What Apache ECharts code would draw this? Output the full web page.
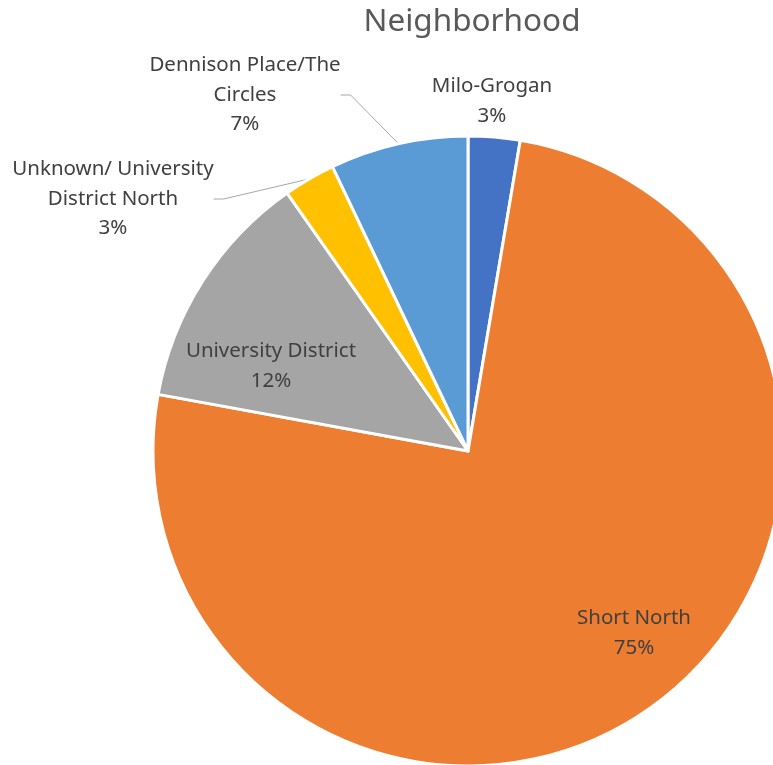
<!DOCTYPE html>
<html>
<head>
<meta charset="utf-8">
<script src="https://cdn.jsdelivr.net/npm/echarts@6/dist/echarts.min.js"></script>
<style>
  html, body { margin: 0; padding: 0; background: #ffffff; }
  #chart { width: 773px; height: 765px; }
</style>
</head>
<body>
<div id="chart"></div>
<script>
// Neighborhood breakdown (counts), clockwise from 12 o'clock
const categories = [
  'Milo-Grogan',
  'Short North',
  'University District',
  'Unknown/ University\nDistrict North',
  'Dennison Place/The\nCircles'
];
const counts = [3, 85, 14, 3, 8];
const colors = ['#4472C4', '#ED7D31', '#A5A5A5', '#FFC000', '#5B9BD5'];

// label placement per slice: where the label block sits, and whether it has a leader line
const labelSpots = [
  { x: 492, y: 101, outside: true,  line: false },
  { x: 634, y: 633, outside: false, line: false },
  { x: 271, y: 366, outside: false, line: false },
  { x: 113, y: 199, outside: true,  line: true },
  { x: 245, y: 95,  outside: true,  line: true }
];

const chart = echarts.init(document.getElementById('chart'), null, { renderer: 'canvas' });

const FONT = '"Noto Sans", "Open Sans", sans-serif';

chart.setOption({
  animation: false,
  title: {
    text: 'Neighborhood',
    left: 467,
    top: 1,
    textAlign: 'center',
    textStyle: { fontFamily: FONT, fontSize: 31.5, fontWeight: 'normal', color: '#595959' }
  },
  series: [{
    type: 'pie',
    center: [468, 451],
    radius: 315,
    startAngle: 90,
    clockwise: true,
    avoidLabelOverlap: false,
    percentPrecision: 0,
    itemStyle: { borderColor: '#ffffff', borderWidth: 3 },
    label: {
      formatter: '{b}\n{d}%',
      fontFamily: FONT,
      fontSize: 20.5,
      lineHeight: 29.5,
      color: '#404040',
      align: 'center'
    },
    labelLine: { show: false, lineStyle: { color: '#A6A6A6', width: 1 } },
    labelLayout: function (params) {
      const s = labelSpots[params.dataIndex];
      return { x: s.x, y: s.y, align: 'center', verticalAlign: 'middle' };
    },
    data: categories.map(function (name, i) {
      return {
        name: name,
        value: counts[i],
        itemStyle: { color: colors[i] },
        label: { position: labelSpots[i].outside ? 'outside' : 'inside' },
        labelLine: { show: labelSpots[i].line, length: 10, length2: 10 }
      };
    })
  }]
});
</script>
</body>
</html>
